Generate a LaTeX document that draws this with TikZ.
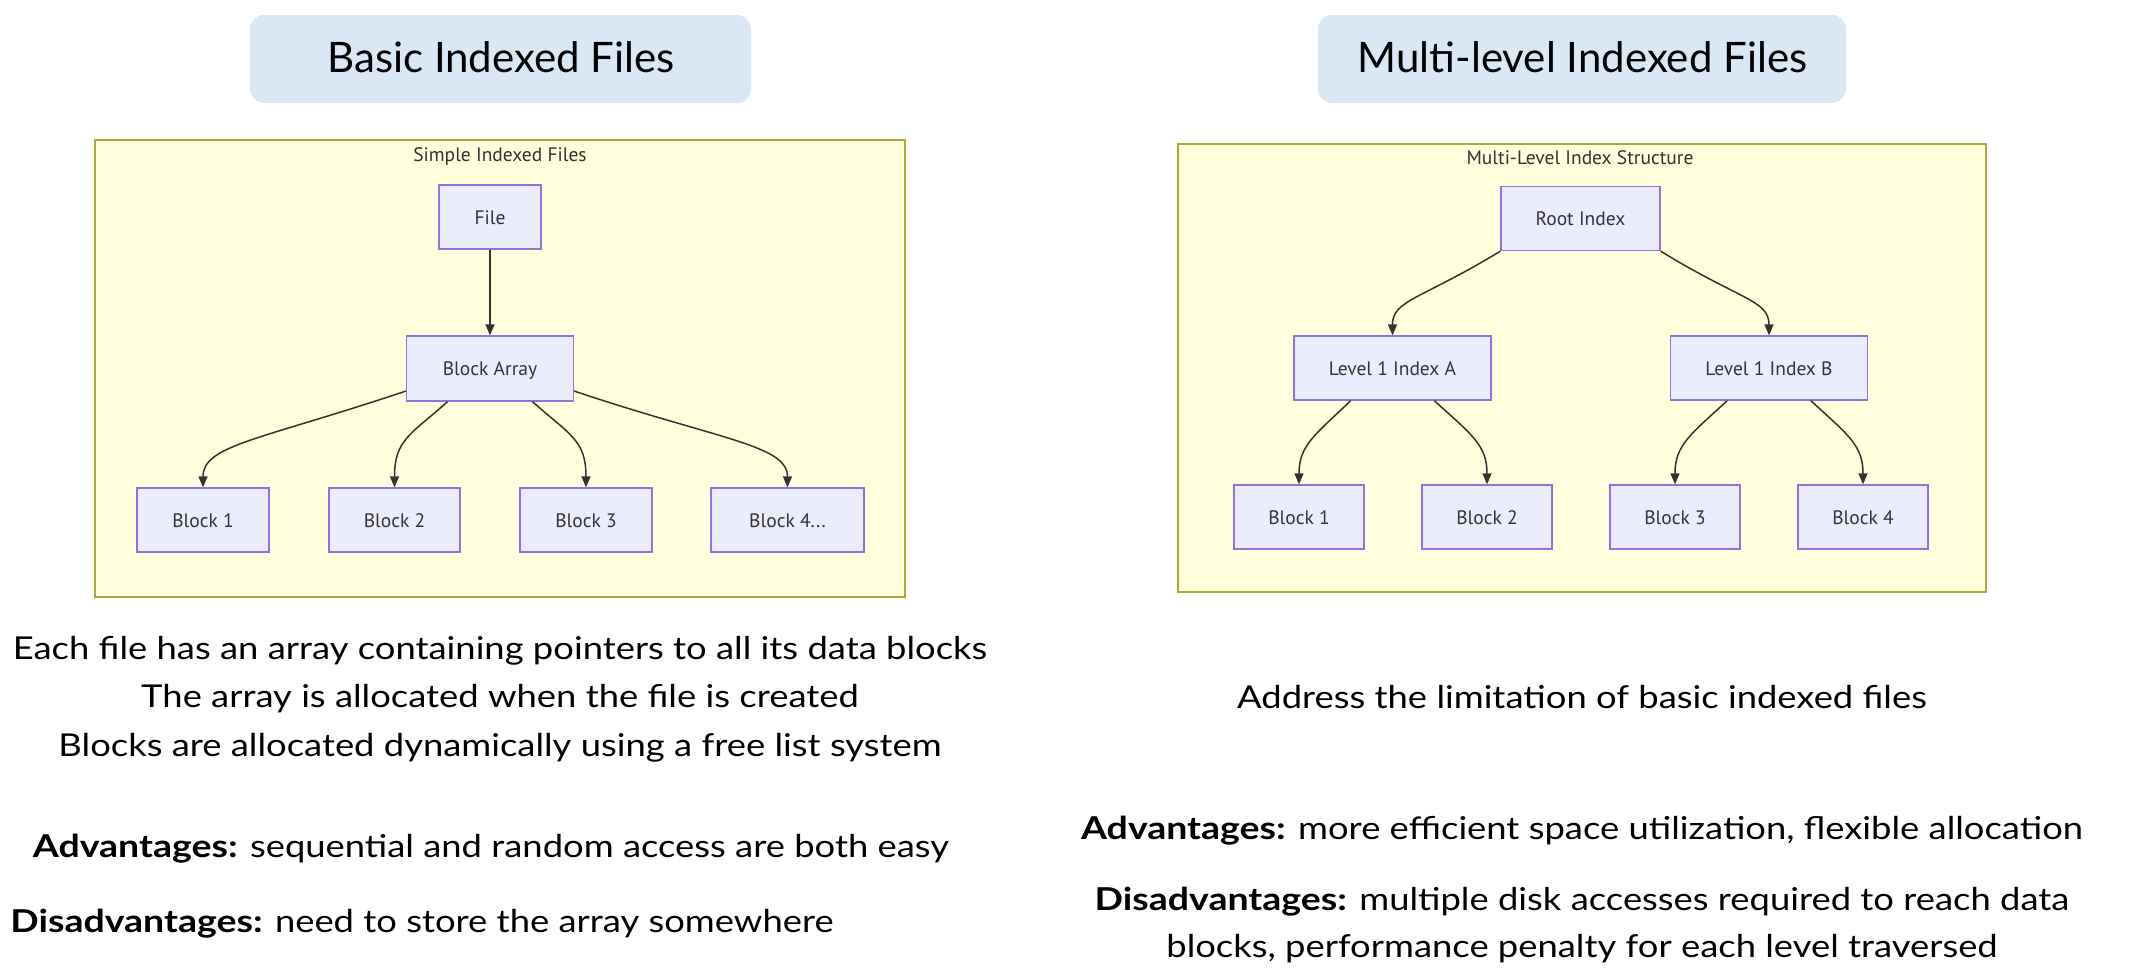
\documentclass[tikz,border=0pt]{standalone}
\usepackage{fontspec}
\setmainfont{Lato}
\newfontfamily\mfont{PT Sans}
\newfontfamily\bodyfont{Lato}[FakeStretch=1.155]
\newfontfamily\bodybold{Lato Bold}[FakeStretch=1.19]
\newcommand\advlabel[1]{{\bodybold #1}}
\usetikzlibrary{arrows.meta}
\definecolor{nodefill}{HTML}{ECECFF}
\definecolor{nodeline}{HTML}{9370DB}
\definecolor{clfill}{HTML}{FFFFDE}
\definecolor{clline}{HTML}{AAAA33}
\definecolor{edgecol}{HTML}{333333}
\definecolor{titlefill}{HTML}{DAE7F4}
\begin{document}
\begin{tikzpicture}[x=1pt,y=1pt,
 titlebox/.style={fill=titlefill, rounded corners=14pt, draw=none, inner sep=0pt},
 titletext/.style={font=\fontsize{42}{50}\selectfont, anchor=base, inner sep=0pt},
 cluster/.style={fill=clfill, draw=clline, line width=1.5pt, inner sep=0pt},
 clabel/.style={font=\mfont\fontsize{19.5}{22}\selectfont, text=edgecol, anchor=base, inner sep=0pt},
 box/.style={draw=nodeline, fill=nodefill, line width=1.3pt, minimum height=64pt,
   font=\mfont\fontsize{19.5}{22}\selectfont, text=edgecol, inner sep=0pt,
   text height=14pt, text depth=0pt},
 conn/.style={draw=edgecol, line width=1.5pt, -{Triangle[length=11pt,width=9pt]}},
 body/.style={font=\bodyfont\fontsize{31.5}{38}\selectfont, anchor=base, inner sep=0pt}
]
\useasboundingbox[fill=white] (0,0) rectangle (2132,-970);

% ---------- Left panel ----------
\node[titlebox, minimum width=501pt, minimum height=88pt] (t1) at (500.5,-59) {};
\node[titletext] (t1txt) at (501,-72) {Basic Indexed Files};

\node[cluster, minimum width=810pt, minimum height=457pt] (c1) at (500,-368.5) {};
\node[clabel] (c1lab) at (500,-161) {Simple Indexed Files};

\node[box, minimum width=102pt] (file) at (490,-217) {File};
\node[box, minimum width=167pt, minimum height=65pt] (ba) at (490,-368.5) {Block Array};
\node[box, minimum width=132pt] (b1) at (203,-520) {Block 1};
\node[box, minimum width=131pt] (b2) at (394.5,-520) {Block 2};
\node[box, minimum width=132pt] (b3) at (586,-520) {Block 3};
\node[box, minimum width=153pt] (b4) at (787.5,-520) {Block 4...};

\draw[conn] (file.south) -- (ba.north);
\draw[conn] (ba.195) .. controls (260,-440) and (203,-445) .. (b1.north);
\draw[conn] (ba.218) .. controls (410,-435) and (394.5,-440) .. (b2.north);
\draw[conn] (ba.322) .. controls (570,-435) and (586,-440) .. (b3.north);
\draw[conn] (ba.345) .. controls (720,-440) and (787.5,-445) .. (b4.north);

\node[body] (l1) at (500,-659) {Each file has an array containing pointers to all its data blocks};
\node[body] (l2) at (500,-707) {The array is allocated when the file is created};
\node[body] (l3) at (500,-756) {Blocks are allocated dynamically using a free list system};
\node[body] (l4) at (491,-857) {\advlabel{Advantages:} sequential and random access are both easy};
\node[body] (l5) at (422,-932) {\advlabel{Disadvantages:} need to store the array somewhere};

% ---------- Right panel ----------
\node[titlebox, minimum width=528pt, minimum height=88pt] (t2) at (1582,-59) {};
\node[titletext] (t2txt) at (1582.5,-72) {Multi-level Indexed Files};

\node[cluster, minimum width=808pt, minimum height=448pt] (c2) at (1582,-368) {};
\node[clabel] (c2lab) at (1580,-164) {Multi-Level Index Structure};

\node[box, minimum width=159pt] (root) at (1580.5,-218.5) {Root Index};
\node[box, minimum width=197pt] (ia) at (1392.5,-368) {Level 1 Index A};
\node[box, minimum width=197pt] (ib) at (1769,-368) {Level 1 Index B};
\node[box, minimum width=130pt] (r1) at (1299,-517) {Block 1};
\node[box, minimum width=130pt] (r2) at (1487,-517) {Block 2};
\node[box, minimum width=130pt] (r3) at (1675,-517) {Block 3};
\node[box, minimum width=130pt] (r4) at (1863,-517) {Block 4};

\draw[conn] (root.south west) .. controls (1420,-300) and (1392.5,-300) .. (ia.north);
\draw[conn] (root.south east) .. controls (1740,-300) and (1769,-300) .. (ib.north);
\draw[conn] (ia.218) .. controls (1315,-435) and (1299,-445) .. (r1.north);
\draw[conn] (ia.322) .. controls (1472,-435) and (1487,-445) .. (r2.north);
\draw[conn] (ib.218) .. controls (1690,-435) and (1675,-445) .. (r3.north);
\draw[conn] (ib.322) .. controls (1848,-435) and (1863,-445) .. (r4.north);

\node[body] (m1) at (1582,-708) {Address the limitation of basic indexed files};
\node[body] (m2) at (1582,-839) {\advlabel{Advantages:} more efficient space utilization, flexible allocation};
\node[body] (m3) at (1582,-910) {\advlabel{Disadvantages:} multiple disk accesses required to reach data};
\node[body] (m4) at (1582,-957) {blocks, performance penalty for each level traversed};
\end{tikzpicture}
\end{document}
